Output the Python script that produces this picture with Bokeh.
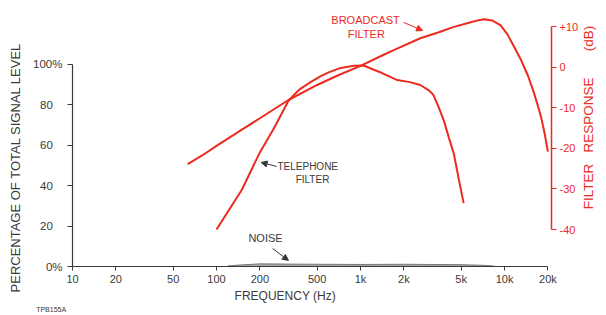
import math
from bokeh.plotting import figure
from bokeh.models import Range1d, LinearAxis, LogAxis, FixedTicker, Label, Arrow, NormalHead
from bokeh.embed import file_html
from bokeh.resources import INLINE

# ---------------- data ----------------
x_ticks = [10, 20, 50, 100, 200, 500, 1000, 2000, 5000, 10000, 20000]
x_tick_labels = ["10", "20", "50", "100", "200", "500", "1k", "2k", "5k", "10k", "20k"]
pct_ticks = [0, 20, 40, 60, 80, 100]
NB = "\u00a0"
pct_tick_labels = ["0%", "20" + NB * 3, "40" + NB * 3, "60" + NB * 3, "80" + NB * 3, "100%"]
db_ticks = [-40, -30, -20, -10, 0, 10]
db_tick_labels = ["-40", "-30", "-20", "-10", "0", "+10"]

broadcast_f = [63, 80, 100, 150, 200, 316, 500, 700, 1000, 1400, 1700, 2600, 3500,
               4400, 5500, 6500, 7200, 8200, 9400, 10500, 11500, 13000, 14500,
               16000, 17000, 18000, 19000, 20000]
broadcast_db = [-23.9, -21.7, -19.4, -15.4, -12.6, -8.1, -4.4, -2.0, 0.3, 2.8, 4.2,
                7.1, 8.6, 9.85, 10.8, 11.5, 11.8, 11.5, 10.3, 8.0, 5.4, 1.8, -2.0,
                -6.3, -9.4, -12.5, -16.4, -20.8]

telephone_f = [100, 150, 200, 250, 316, 350, 380, 450, 530, 600, 730, 900, 1050, 1250,
               1400, 1800, 2200, 2600, 3000, 3200, 3500, 3800, 4100, 4450, 4800, 5200]
telephone_db = [-40.0, -30.2, -21.0, -15.1, -8.3, -6.6, -5.4, -3.7, -2.2, -1.3, -0.2,
                0.35, 0.4, -0.7, -1.4, -3.2, -3.7, -4.4, -5.8, -6.8, -10.0, -13.3,
                -17.3, -21.4, -27.4, -33.5]

noise_f = [120, 150, 200, 300, 500, 1000, 2000, 3000, 5000, 7000, 8500]
noise_pct = [0.3, 0.8, 1.3, 1.2, 1.1, 1.0, 1.1, 1.0, 0.9, 0.6, 0.2]

RED = "#ec2a1e"
INK = "#3a3a3a"
FONT = "Liberation Sans"

# ---------------- figure ----------------
p = figure(width=606, height=315, x_axis_type="log",
           x_range=Range1d(10, 21190), y_range=Range1d(0, 126.7),
           output_backend="svg", toolbar_location=None,
           min_border_left=72, min_border_right=55,
           min_border_top=10, min_border_bottom=49)
p.outline_line_color = None
p.grid.visible = False
p.background_fill_color = "white"
p.extra_y_ranges = {"db": Range1d(-49.1, 13.94)}


def style(ax, color, size, tick_out, standoff, line_w=1.2):
    ax.major_tick_in = 0
    ax.major_tick_out = tick_out
    ax.minor_tick_in = 0
    ax.minor_tick_out = 0
    ax.axis_line_color = color
    ax.major_tick_line_color = color
    ax.axis_line_width = line_w
    ax.major_label_standoff = standoff
    ax.major_label_text_font = FONT
    ax.major_label_text_font_size = size
    ax.major_label_text_color = color


def text_axis(ax, color, size, standoff):
    style(ax, color, size, 0, standoff)
    ax.axis_line_color = None
    ax.major_tick_line_color = None


# bottom axis
xa = p.below[0]
xa.ticker = FixedTicker(ticks=x_ticks)
xa.major_label_overrides = {t: s for t, s in zip(x_ticks, x_tick_labels)}
xa.bounds = (10, 20000)
style(xa, INK, "11px", 4, 2)

# x title (label of a text-only axis)
xt = LogAxis(ticker=FixedTicker(ticks=[300]), bounds=(6.5, 400))
xt.major_label_overrides = {300: "FREQUENCY (Hz)"}
text_axis(xt, INK, "12px", 1)
p.add_layout(xt, "below")

# drawing reference code in the lower left corner (padded so it sits left of the axis start)
xt2 = LogAxis(ticker=FixedTicker(ticks=[10]), bounds=(10, 400))
xt2.major_label_overrides = {10: "TPB155A" + NB * 22}
text_axis(xt2, INK, "7px", 0)
p.add_layout(xt2, "below")

# left axis
ya = p.left[0]
ya.ticker = FixedTicker(ticks=pct_ticks)
ya.major_label_overrides = {t: s for t, s in zip(pct_ticks, pct_tick_labels)}
ya.bounds = (0, 100)
style(ya, INK, "11.5px", 5, 5)

yt = LinearAxis(ticker=FixedTicker(ticks=[49]))
yt.major_label_overrides = {49: "PERCENTAGE OF TOTAL SIGNAL LEVEL"}
yt.major_label_orientation = "vertical"
text_axis(yt, INK, "13px", 7)
p.add_layout(yt, "left")

# right axis (dB)
ra = LinearAxis(y_range_name="db", ticker=FixedTicker(ticks=db_ticks), bounds=(-40, 10))
ra.major_label_overrides = {t: s for t, s in zip(db_ticks, db_tick_labels)}
style(ra, RED, "11px", 5, 3, line_w=1.5)
ra.major_label_text_align = "center"
p.add_layout(ra, "right")

rt = LinearAxis(y_range_name="db", ticker=FixedTicker(ticks=[-35]))
rt.major_label_overrides = {-35: "FILTER" + NB * 3 + "RESPONSE" + NB * 7 + "(dB)"}
rt.major_label_orientation = math.pi / 2
text_axis(rt, RED, "13.5px", 7)
rt.major_label_text_baseline = "top"
p.add_layout(rt, "right")

# ---------------- data marks ----------------
p.varea(x=noise_f, y1=[0] * len(noise_f), y2=noise_pct, fill_color="#8a8a8a", fill_alpha=0.75)
p.line(noise_f, noise_pct, line_color="#777777", line_width=1)

p.line(broadcast_f, broadcast_db, y_range_name="db", line_color=RED, line_width=2)
p.line(telephone_f, telephone_db, y_range_name="db", line_color=RED, line_width=2)

# ---------------- annotations inside the plot ----------------
def lab(x, y, text, size, color=INK, align="center"):
    p.add_layout(Label(x=x, y=y, text=text, text_font=FONT, text_font_size=size,
                       text_color=color, text_align=align, text_baseline="middle"))

lab(1084, 121.8, "BROADCAST", "11px", color=RED)
lab(1097, 115.3, "FILTER", "11px", color=RED)
lab(265, 49.5, "TELEPHONE", "10px", align="left")
lab(464, 43.1, "FILTER", "10px")
lab(219, 13.9, "NOISE", "11px")

def arrow(x0, y0, x1, y1, color):
    p.add_layout(Arrow(x_start=x0, y_start=y0, x_end=x1, y_end=y1, line_color=color,
                       line_width=1,
                       end=NormalHead(size=6, fill_color=color, line_color=color)))

arrow(1991, 120.8, 2698, 116.8, RED)
arrow(262, 49.5, 204, 51.5, INK)
arrow(245, 8.9, 316, 3.0, INK)

open("out.html", "w").write(file_html(p, INLINE))
